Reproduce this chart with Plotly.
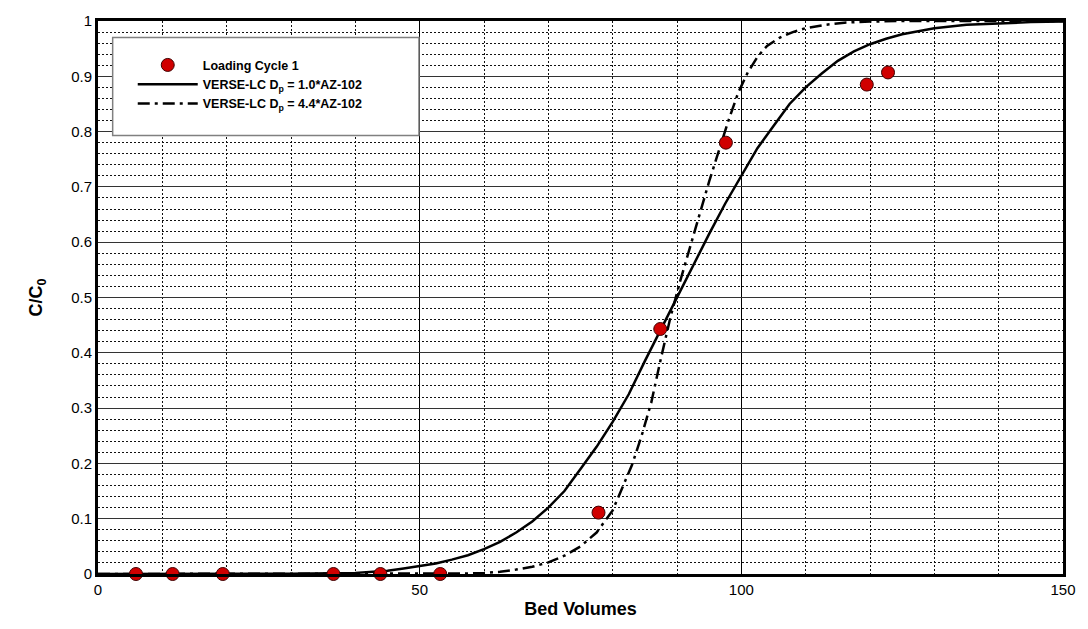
import plotly.graph_objects as go

# Measured breakthrough data, loading cycle 1
bv_data = [5.9, 11.6, 19.4, 36.6, 43.9, 53.2, 77.8, 87.4, 97.6, 119.5, 122.8]
cc0_data = [0.0, 0.0, 0.0, 0.0, 0.0, 0.0, 0.111, 0.443, 0.78, 0.885, 0.907]

# VERSE-LC model, Dp = 1.0*AZ-102
bv_model1 = [0, 20, 30, 40, 42.5, 45, 47.5, 50, 52.5, 55, 57.5, 60, 62.5, 65,
             67.5, 70, 72.5, 75, 77.5, 80, 82.5, 85, 87.5, 90, 92.5, 95, 97.5,
             100, 102.5, 105, 107.5, 110, 112.5, 115, 117.5, 120, 122.5, 125,
             130, 135, 140, 145, 150]
cc0_model1 = [0.0, 0.0, 0.0005, 0.002, 0.004, 0.006, 0.01, 0.014, 0.019, 0.026,
              0.034, 0.045, 0.058, 0.075, 0.095, 0.12, 0.15, 0.19, 0.23, 0.275,
              0.325, 0.385, 0.443, 0.5, 0.56, 0.615, 0.67, 0.72, 0.77, 0.81,
              0.85, 0.88, 0.905, 0.928, 0.945, 0.958, 0.968, 0.976, 0.987,
              0.993, 0.996, 0.998, 0.999]

# VERSE-LC model, Dp = 4.4*AZ-102
bv_model2 = [0, 55, 57.5, 60, 62.5, 65, 67.5, 70, 72.5, 75, 77.5, 80, 81.5, 83,
             84.5, 86, 87.5, 89, 90.5, 92, 93.5, 95, 96.5, 98, 99.5, 101, 102.5,
             104, 106, 108, 110, 113, 116, 120, 125, 150]
cc0_model2 = [0.0, 0.0, 0.001, 0.002, 0.004, 0.008, 0.013, 0.021, 0.033, 0.05,
              0.075, 0.115, 0.155, 0.197, 0.25, 0.31, 0.39, 0.465, 0.53, 0.59,
              0.65, 0.71, 0.765, 0.82, 0.87, 0.907, 0.935, 0.955, 0.97, 0.98,
              0.987, 0.993, 0.997, 0.999, 1.0, 1.0]

x_ticks = [0, 50, 100, 150]
y_ticks = [0, 0.1, 0.2, 0.3, 0.4, 0.5, 0.6, 0.7, 0.8, 0.9, 1]
y_ticktext = ["0", "0.1", "0.2", "0.3", "0.4", "0.5", "0.6", "0.7", "0.8", "0.9", "1"]

FONT = "Arial, Liberation Sans, sans-serif"

fig = go.Figure()

fig.add_trace(go.Scatter(
    x=bv_model1, y=cc0_model1, mode="lines", legendrank=2,
    name="<b>VERSE-LC D<sub>p</sub> = 1.0*AZ-102</b>",
    line=dict(color="black", width=2.5),
))
fig.add_trace(go.Scatter(
    x=bv_model2, y=cc0_model2, mode="lines", legendrank=3,
    name="<b>VERSE-LC D<sub>p</sub> = 4.4*AZ-102</b>",
    line=dict(color="black", width=2.5, dash="12px,5px,3px,5px"),
))
fig.add_trace(go.Scatter(
    x=bv_data, y=cc0_data, mode="markers", legendrank=1,
    name="<b>Loading Cycle 1</b>",
    marker=dict(color="#d00000", size=13, line=dict(color="#400000", width=1)),
    cliponaxis=False,
))

# White legend panel with grey frame
fig.add_shape(
    type="rect", xref="paper", yref="paper",
    x0=0.0152, x1=0.3326, y0=0.793, y1=0.970,
    fillcolor="white", line=dict(color="#808080", width=1.5), layer="above",
)

fig.update_layout(
    width=1088, height=629,
    margin=dict(l=98, r=22, t=14, b=51),
    paper_bgcolor="white", plot_bgcolor="white",
    font=dict(family=FONT, color="black", size=15),
    showlegend=True,
    legend=dict(
        x=0.036, y=0.947, xanchor="left", yanchor="top",
        bgcolor="rgba(0,0,0,0)", borderwidth=0,
        font=dict(family=FONT, size=12.5, color="black"),
        traceorder="normal", itemwidth=60, tracegroupgap=0,
    ),
    xaxis=dict(
        range=[0, 150], tickvals=x_ticks, ticks="",
        title=dict(text="<b>Bed Volumes</b>", font=dict(size=18), standoff=6),
        showline=True, linecolor="black", linewidth=3, mirror=True,
        showgrid=True, gridcolor="black", gridwidth=1, dtick=50,
        minor=dict(dtick=10, showgrid=True, gridcolor="#111111", gridwidth=1,
                   griddash="2px,2px"),
        zeroline=False,
    ),
    yaxis=dict(
        range=[0, 1], tickvals=y_ticks, ticktext=y_ticktext, ticks="",
        title=dict(text="<b>C/C<sub>0</sub></b>", font=dict(size=18), standoff=24),
        showline=True, linecolor="black", linewidth=3, mirror=True,
        showgrid=True, gridcolor="#333333", gridwidth=1,
        minor=dict(dtick=0.02, showgrid=True, gridcolor="#111111", gridwidth=1,
                   griddash="2px,2px"),
        zeroline=False,
    ),
)

fig.write_html("out.html")
